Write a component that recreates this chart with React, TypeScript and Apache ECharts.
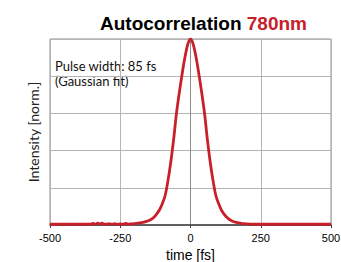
import React, { useEffect, useRef } from "react";
import * as echarts from "echarts";

const timeFs = [
  -500, -450, -400, -360, -345, -338, -330, -322, -315, -308, -300, -290, -280, -270, -260, -250,
  -240, -230, -220, -210, -200, -190, -180, -170, -160, -150, -140, -130, -120, -110, -100, -90,
  -80, -70, -60, -50, -40, -30, -20, -10, 0, 10, 20, 30, 40, 50, 60, 70, 80, 90, 100, 110, 120,
  130, 140, 150, 160, 170, 180, 190, 200, 210, 220, 230, 240, 250, 300, 350, 400, 450, 500,
];
const intensity = [
  0.004, 0.004, 0.004, 0.004, 0.009, 0.004, 0.01, 0.004, 0.01, 0.004, 0.004, 0.007, 0.004, 0.007, 0.004, 0.006,
  0.004, 0.008, 0.005, 0.006, 0.007, 0.009, 0.011, 0.014, 0.018, 0.023, 0.03, 0.042, 0.06, 0.082, 0.115, 0.16,
  0.24, 0.34, 0.46, 0.6, 0.71, 0.81, 0.9, 0.97, 1.0, 0.97, 0.9, 0.81, 0.71, 0.6, 0.46, 0.34, 0.24,
  0.16, 0.115, 0.08, 0.057, 0.04, 0.028, 0.02, 0.015, 0.012, 0.009, 0.007, 0.006, 0.005, 0.004, 0.004,
  0.004, 0.004, 0.004, 0.004, 0.004, 0.004, 0.004,
];
const xTicks = [-500, -250, 0, 250, 500];
const yTicks = [0, 0.2, 0.4, 0.6, 0.8, 1.0];
const noteLines = ["Pulse width: 85 fs", "(Gaussian fit)"];

export default function App() {
  const ref = useRef<HTMLDivElement>(null);
  useEffect(() => {
    const chart = echarts.init(ref.current!, null, { renderer: "svg" });
    chart.setOption({
      animation: false,
      backgroundColor: "#ffffff",
      title: {
        text: "{b|Autocorrelation }{r|780nm}",
        left: 198.5,
        top: 9,
        textAlign: "center",
        textStyle: {
          rich: {
            b: { fontFamily: "Liberation Sans", fontWeight: "bold", fontSize: 19, color: "#000000" },
            r: { fontFamily: "Liberation Sans", fontWeight: "bold", fontSize: 19, color: "#c8202a" },
          },
        },
      },
      grid: {
        left: 50,
        right: 10,
        top: 39,
        bottom: 37,
        show: true,
        borderColor: "#8c8c8c",
        borderWidth: 1,
        outerBoundsMode: "none",
        containLabel: false,
      },
      xAxis: {
        type: "value",
        min: xTicks[0],
        max: xTicks[xTicks.length - 1],
        interval: 250,
        name: "time [fs]",
        nameLocation: "middle",
        nameGap: 21,
        nameTextStyle: { fontFamily: "Liberation Sans", fontSize: 14, color: "#000" },
        axisLine: { lineStyle: { color: "#404040", width: 1.5 } },
        axisTick: { show: true, length: 3, lineStyle: { color: "#404040" } },
        axisLabel: { fontFamily: "Liberation Sans", fontSize: 11, color: "#000", margin: 7 },
        splitLine: { show: true, lineStyle: { color: "#b4b4b4", width: 1 } },
      },
      yAxis: {
        type: "value",
        min: yTicks[0],
        max: yTicks[yTicks.length - 1],
        interval: 0.2,
        name: "Intensity [norm.]",
        nameLocation: "middle",
        nameGap: 10,
        nameTextStyle: { fontFamily: "Lato", fontSize: 14, color: "#222" },
        axisLine: { show: true, lineStyle: { color: "#8c8c8c", width: 1 } },
        axisTick: { show: false },
        axisLabel: { show: false },
        splitLine: { show: true, lineStyle: { color: "#b4b4b4", width: 1 } },
      },
      graphic: noteLines.map((line, i) => ({
        type: "text",
        left: 55,
        top: 59 + i * 15,
        style: { text: line, fontFamily: "Lato", fontSize: 13, fill: "#111" },
      })),
      series: [
        {
          type: "line",
          data: timeFs.map((t, i) => [t, intensity[i]]),
          showSymbol: false,
          smooth: 0.3,
          lineStyle: { color: "#c8202a", width: 2.8 },
        },
      ],
    });
    return () => chart.dispose();
  }, []);
  return <div ref={ref} style={{ width: 341, height: 262, position: "absolute", left: 0, top: 0 }} />;
}
